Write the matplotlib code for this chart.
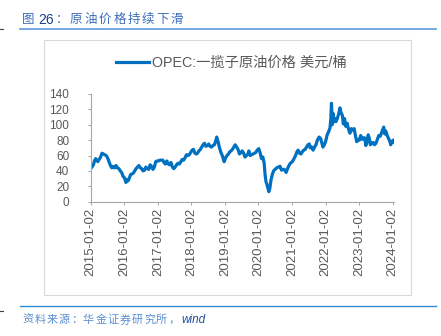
import pandas as pd
import matplotlib
matplotlib.use("Agg")
import matplotlib.pyplot as plt
import matplotlib.dates as mdates
from matplotlib.lines import Line2D
from matplotlib.patches import Rectangle

plt.rcParams['font.family'] = ['Liberation Sans', 'Noto Sans CJK SC', 'DejaVu Sans']

# -----------------------------
# 数据：OPEC 一揽子原油价格（美元/桶）
# -----------------------------
dates = [
    "2015-01-02", "2015-01-15", "2015-02-01", "2015-02-12", "2015-02-25", "2015-03-10", "2015-03-20",
    "2015-04-05", "2015-04-20", "2015-05-05", "2015-05-20", "2015-06-05", "2015-06-20", "2015-07-05",
    "2015-07-20", "2015-08-05", "2015-08-20", "2015-09-05", "2015-09-20", "2015-10-05", "2015-10-20",
    "2015-11-05", "2015-11-20", "2015-12-05", "2015-12-20",
    "2016-01-05", "2016-01-20", "2016-02-01", "2016-02-12", "2016-02-25", "2016-03-10", "2016-03-25",
    "2016-04-10", "2016-04-25", "2016-05-10", "2016-05-25", "2016-06-10", "2016-06-25", "2016-07-10",
    "2016-07-25", "2016-08-10", "2016-08-25", "2016-09-10", "2016-09-25", "2016-10-10", "2016-10-25",
    "2016-11-10", "2016-11-25", "2016-12-10", "2016-12-25",
    "2017-01-10", "2017-01-25", "2017-02-10", "2017-02-25", "2017-03-10", "2017-03-25", "2017-04-10",
    "2017-04-25", "2017-05-10", "2017-05-25", "2017-06-10", "2017-06-25", "2017-07-10", "2017-07-25",
    "2017-08-10", "2017-08-25", "2017-09-10", "2017-09-25", "2017-10-10", "2017-10-25", "2017-11-10",
    "2017-11-25", "2017-12-10", "2017-12-25",
    "2018-01-10", "2018-01-25", "2018-02-10", "2018-02-25", "2018-03-10", "2018-03-25", "2018-04-10",
    "2018-04-25", "2018-05-10", "2018-05-25", "2018-06-10", "2018-06-25", "2018-07-10", "2018-07-25",
    "2018-08-10", "2018-08-25", "2018-09-10", "2018-09-25", "2018-10-05", "2018-10-20", "2018-11-05",
    "2018-11-20", "2018-12-05", "2018-12-25",
    "2019-01-10", "2019-01-25", "2019-02-10", "2019-02-25", "2019-03-10", "2019-03-25", "2019-04-10",
    "2019-04-25", "2019-05-10", "2019-05-25", "2019-06-10", "2019-06-25", "2019-07-10", "2019-07-25",
    "2019-08-10", "2019-08-25", "2019-09-10", "2019-09-20", "2019-10-05", "2019-10-20", "2019-11-05",
    "2019-11-20", "2019-12-05", "2019-12-20",
    "2020-01-06", "2020-01-20", "2020-02-05", "2020-02-20", "2020-03-05", "2020-03-15", "2020-03-25",
    "2020-04-05", "2020-04-25", "2020-05-05", "2020-05-18", "2020-06-01", "2020-06-15", "2020-07-01",
    "2020-07-20", "2020-08-05", "2020-08-25", "2020-09-10", "2020-09-25", "2020-10-10", "2020-10-30",
    "2020-11-15", "2020-11-30", "2020-12-15",
    "2021-01-05", "2021-01-20", "2021-02-10", "2021-02-25", "2021-03-10", "2021-03-25", "2021-04-10",
    "2021-04-25", "2021-05-10", "2021-05-25", "2021-06-10", "2021-06-25", "2021-07-10", "2021-07-20",
    "2021-08-05", "2021-08-20", "2021-09-05", "2021-09-20", "2021-10-05", "2021-10-25", "2021-11-10",
    "2021-11-26", "2021-12-05", "2021-12-20",
    "2022-01-05", "2022-01-20", "2022-02-05", "2022-02-20", "2022-03-01", "2022-03-08", "2022-03-16",
    "2022-03-24", "2022-04-05", "2022-04-15", "2022-04-25", "2022-05-10", "2022-05-25", "2022-06-08",
    "2022-06-20", "2022-07-05", "2022-07-15", "2022-07-28", "2022-08-10", "2022-08-25", "2022-09-10",
    "2022-09-25", "2022-10-10", "2022-10-25", "2022-11-10", "2022-11-25", "2022-12-08", "2022-12-20",
    "2023-01-05", "2023-01-20", "2023-02-05", "2023-02-20", "2023-03-05", "2023-03-17", "2023-03-30",
    "2023-04-12", "2023-04-25", "2023-05-05", "2023-05-20", "2023-06-05", "2023-06-20", "2023-07-05",
    "2023-07-20", "2023-08-05", "2023-08-20", "2023-09-05", "2023-09-20", "2023-09-28", "2023-10-10",
    "2023-10-20", "2023-11-05", "2023-11-20", "2023-12-05", "2023-12-13", "2023-12-28",
    "2024-01-10", "2024-01-18",
]
prices = [
    43, 45, 48, 53, 56, 54, 52, 55, 58, 63, 62, 61, 60, 57, 52, 47, 44, 46, 44, 47, 44, 43, 40, 38, 33,
    31, 25, 29, 27, 30, 35, 36, 37, 40, 43, 45, 47, 44, 43, 40, 41, 45, 43, 42, 48, 46, 42, 45, 52, 53,
    53, 54, 54, 54, 51, 49, 53, 49, 48, 51, 45, 43, 45, 48, 50, 49, 52, 55, 54, 57, 61, 60, 61, 64,
    67, 68, 63, 62, 63, 66, 68, 71, 74, 76, 72, 73, 75, 72, 71, 73, 74, 79, 84, 78, 70, 64, 60, 52,
    57, 60, 62, 65, 66, 68, 71, 74, 71, 68, 62, 64, 66, 63, 58, 60, 62, 66, 60, 61, 62, 63, 64, 67,
    69, 64, 56, 58, 50, 35, 26, 22, 13, 17, 28, 35, 40, 42, 44, 45, 46, 41, 42, 42, 38, 43, 47, 50,
    52, 55, 60, 65, 67, 63, 62, 65, 67, 68, 71, 74, 75, 70, 71, 67, 71, 74, 80, 84, 82, 75, 71, 74,
    79, 87, 91, 96, 108, 128, 100, 115, 104, 108, 104, 108, 114, 122, 116, 112, 101, 108, 98, 102, 94,
    89, 95, 93, 95, 85, 78, 81,
    80, 86, 81, 83, 83, 73, 78, 87, 82, 74, 76, 77, 74, 76, 81, 86, 85, 90, 95, 97, 88, 92, 86, 82,
    78, 74, 79,
    77, 80,
]

tick_dates = ["2015-01-02", "2016-01-02", "2017-01-02", "2018-01-02", "2019-01-02",
              "2020-01-02", "2021-01-02", "2022-01-02", "2023-01-02", "2024-01-02"]
y_ticks = [0, 20, 40, 60, 80, 100, 120, 140]

title_head = "图"
title_num = "26"
title_body = "：原油价格持续下滑"
legend_label = "OPEC:一揽子原油价格 美元/桶"
source_body = "资料来源：华金证券研究所，"
source_tail = "wind"

x = pd.to_datetime(dates)
xt = pd.to_datetime(tick_dates)

# -----------------------------
# 画图
# -----------------------------
fig = plt.figure(figsize=(4.41, 3.36), dpi=100)
W, H = 441, 336

ax = fig.add_axes([90.7 / W, 1 - 201.7 / H, 303.5 / W, 107.7 / H])
ax.plot(x, prices, color="#0070C0", linewidth=2.3, label=legend_label, solid_joinstyle="round")

ax.set_ylim(0, 140)
ax.set_yticks(y_ticks)
ax.set_xlim(xt[0], pd.Timestamp("2024-01-20"))
ax.set_xticks(xt)
ax.set_xticklabels(tick_dates, rotation=90)
ax.xaxis.set_minor_locator(mdates.YearLocator(base=100))

for s in ["top", "right"]:
    ax.spines[s].set_visible(False)
for s in ["left", "bottom"]:
    ax.spines[s].set_color("#A6A6A6")
    ax.spines[s].set_linewidth(0.8)

ax.tick_params(axis="y", length=2.5, width=0.7, color="#A6A6A6", labelcolor="#595959",
               labelsize=8.5, pad=13)
ax.tick_params(axis="x", length=2.5, width=0.7, color="#A6A6A6", labelcolor="#595959",
               labelsize=9.5, pad=2)

fig.legend(loc="center", bbox_to_anchor=(231 / W, 1 - 63 / H), frameon=False,
           fontsize=10.3, labelcolor="#595959", handlelength=2.3, handletextpad=0.2)

# 外框
fig.add_artist(Rectangle((44 / W, 1 - 295 / H), 367 / W, 255 / H, transform=fig.transFigure,
                         fill=False, edgecolor="#D9D9D9", linewidth=0.8))

# 标题和来源的横线
fig.add_artist(Line2D([20 / W, 436 / W], [1 - 29 / H] * 2, color="#5B9BD5", linewidth=1.2))
fig.add_artist(Line2D([20 / W, 436 / W], [1 - 305.5 / H] * 2, color="#2E8BD0", linewidth=1.0))
fig.add_artist(Line2D([0, 3 / W], [1 - 29 / H] * 2, color="#404040", linewidth=0.8))
fig.add_artist(Line2D([0, 3 / W], [1 - 311 / H] * 2, color="#404040", linewidth=0.8))

# 标题（逐字排开，模仿原图的字距）
ty = 1 - 20 / H
fig.text(22 / W, ty, title_head, color="#3D6CB9", fontsize=9, va="center")
fig.text(38 / W, ty, title_num, color="#1F3F8F", fontsize=10, va="center")
for i, ch in enumerate(title_body):
    fig.text((55.6 + i * 14.4) / W, ty, ch, color="#3D6CB9", fontsize=9, va="center")

# 资料来源（中文字体没有斜体，直接用正体）
sy = 1 - 320 / H
for i, ch in enumerate(source_body):
    fig.text((22 + i * 12.2) / W, sy, ch, color="#5B8FD0", fontsize=8, va="center",
             family="Noto Sans CJK SC")
fig.text(181 / W, sy, source_tail, color="#1F4E9E", fontsize=8.5, va="center", style="italic")

fig.savefig("out.png", dpi=100)
